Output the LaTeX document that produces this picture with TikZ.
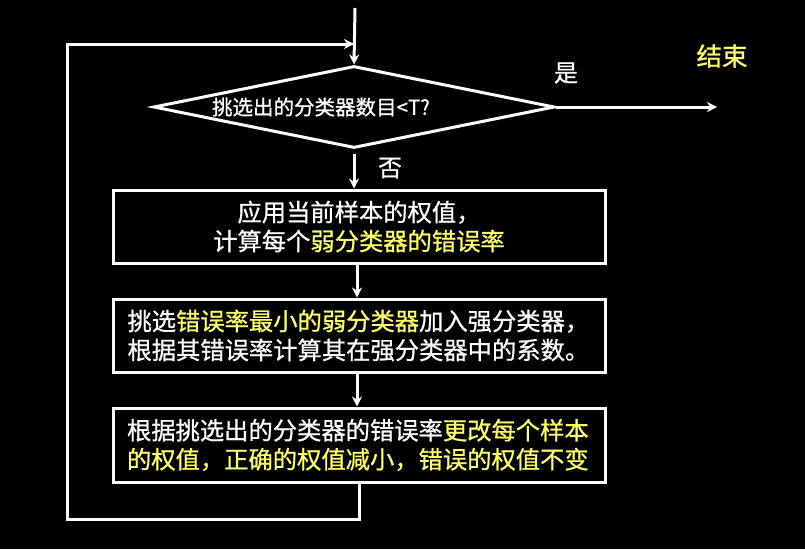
\documentclass[tikz,border=0pt]{standalone}
\usepackage{fontspec}
\newfontfamily\cjk[FakeBold=0.8]{Noto Sans CJK SC}
\usetikzlibrary{shapes.geometric,arrows.meta}
\definecolor{hl}{RGB}{255,255,102}
\begin{document}
\begin{tikzpicture}[x=1pt,y=-1pt,line width=3pt,draw=white,
  arr/.style={-{Stealth[length=10pt,width=10pt]}},
  boxtext/.style={font=\cjk\fontsize{24.3}{29}\selectfont,text=white},
  stepbox/.style={draw=white,line width=3pt,minimum width=492pt,minimum height=73pt,inner xsep=14pt,inner ysep=0pt,text width=464pt,boxtext},
  lbl/.style={font=\cjk\fontsize{24}{26}\selectfont,text=white,inner sep=0pt}]
\fill[black] (0,0) rectangle (805,549);
\useasboundingbox (0,0) rectangle (805,549);
% decision
\node[diamond,draw=white,line width=3pt,minimum width=401pt,minimum height=82pt,inner sep=0pt] (dia) at (354,107) {};
\node[font=\cjk\fontsize{20.5}{24}\selectfont,text=white,inner sep=0pt] (dtext) at (321,107) {挑选出的分类器数目<T?};
% boxes
\node[stepbox,align=center] (b1) at (359,226.5) {应用当前样本的权值，\\计算每个\textcolor{hl}{弱分类器的错误率}};
\node[stepbox,align=left] (b2) at (359.5,335.5) {挑选\textcolor{hl}{错误率最小的弱分类器}加入强分类器，\\根据其错误率计算其在强分类器中的系数。};
\node[stepbox,align=left,minimum height=74pt] (b3) at (359,445) {根据挑选出的分类器的错误率\textcolor{hl}{更改每个样本}\\\textcolor{hl}{的权值，正确的权值减小，错误的权值不变}};
% labels
\node[lbl] (yes) at (566,73) {是};
\node[lbl] (no) at (390,168) {否};
\node[lbl,font=\cjk\fontsize{25.5}{28}\selectfont,text=hl] (end) at (722,56) {结束};
% coordinates
\coordinate (top) at (355,8);
\coordinate (bl) at (67,519);
\coordinate (join) at (354,44);
\coordinate (out) at (717,107);
% connectors
\draw[arr] (top) -- (dia.north);
\draw[arr] (b3.south) |- (bl) |- (join);
\draw[arr] (dia.east) -- (out);
\draw[arr,shorten <=4pt] (dia.south) -- (b1.north -| dia.south);
\draw[arr] (b1.south -| 357,0) -- (b2.north -| 357,0);
\draw[arr] (b2.south -| 357,0) -- (b3.north -| 357,0);
\end{tikzpicture}
\end{document}
